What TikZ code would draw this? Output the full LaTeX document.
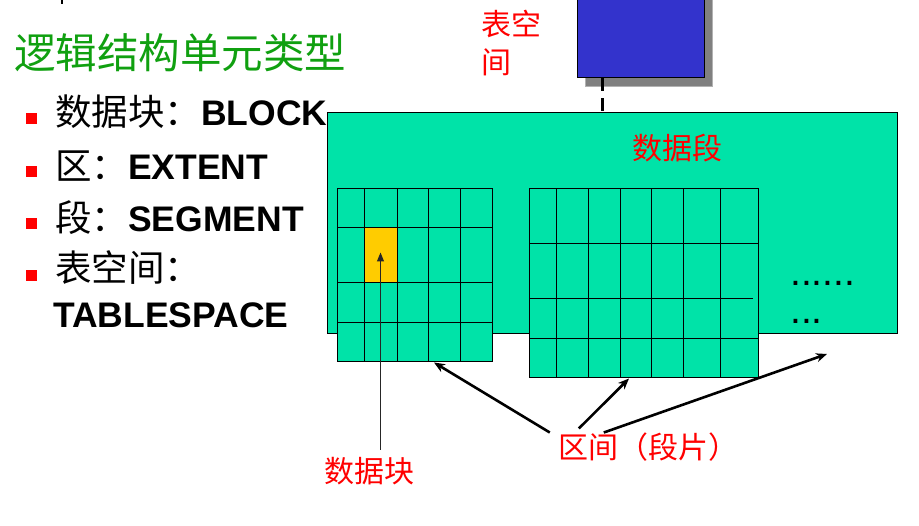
\documentclass[tikz,border=0pt]{standalone}
\usepackage{fontspec}
\setmainfont{Liberation Sans}
\newfontfamily\cjk{Noto Sans CJK SC}
\usetikzlibrary{arrows.meta, positioning, calc}
\definecolor{segteal}{RGB}{0, 227, 168}
\definecolor{blockyellow}{RGB}{255, 204, 0}
\definecolor{spaceblue}{RGB}{51, 51, 204}
\definecolor{titlegreen}{RGB}{16, 160, 16}
\definecolor{markred}{RGB}{255, 0, 0}
\definecolor{shadowgray}{RGB}{128, 128, 128}

\begin{document}
\begin{tikzpicture}[x=1pt, y=-1pt,
  ext/.style={draw, line width=1pt, fill=segteal, inner sep=0pt},
  gridline/.style={line width=1pt},
  pointer/.style={-{Stealth[length=11pt, width=9pt]}, line width=2.6pt},
  item/.style={anchor=base west, inner sep=0pt, font=\fontsize{35.5}{40}\selectfont},
  redlabel/.style={text=markred, inner sep=0pt, font=\cjk\fontsize{30}{38}\selectfont}]

  \useasboundingbox (0,0) rectangle (919,526);
  \draw[line width=2pt] (62,0) -- (62,4);

  % title and list
  \node[anchor=base west, inner sep=0pt, text=titlegreen, font=\cjk\fontsize{41.5}{48}\selectfont] (title) at (14,69) {逻辑结构单元类型};
  \foreach \y in {119,172,224,276}
    \fill[markred] (25.5,\y-5.5) rectangle ++(11,11);
  \node[item] (r1) at (55,126) {{\cjk\fontsize{36.5}{40}\selectfont 数据块：}\textbf{BLOCK}};
  \node[item] (r2) at (55,180) {{\cjk\fontsize{36.5}{40}\selectfont 区：}\textbf{EXTENT}};
  \node[item] (r3) at (55,232) {{\cjk\fontsize{36.5}{40}\selectfont 段：}\textbf{SEGMENT}};
  \node[item] (r4) at (55,282) {{\cjk\fontsize{36.5}{40}\selectfont 表空间：}};
  \node[item] (r5) at (53,328) {\textbf{TABLESPACE}};

  % tablespace
  \fill[shadowgray, draw=gray!60] (585,-10) rectangle (712,86);
  \node[draw, line width=1pt, fill=spaceblue, minimum width=127pt, minimum height=93pt, inner sep=0pt] (tbs) at (640.5,31.5) {};
  \node[redlabel, anchor=north west, align=left] (tbsname) at (481,10) {表空\\间};

  % data segment
  \node[ext, minimum width=570pt, minimum height=221pt] (seg) at (612,223.5) {};
  \node[redlabel] (segname) at (677,148) {数据段};
  \coordinate (d1) at ([xshift=26pt]tbs.south west);
  \draw[line width=3pt, dash pattern=on 13pt off 7pt] (d1) -- (d1 |- seg.north);

  % extent 1
  \node[ext, minimum width=155pt, minimum height=173pt] (ext1) at (414.5,275.5) {};
  \node[draw, line width=1pt, fill=blockyellow, minimum width=33pt, minimum height=55pt, inner sep=0pt] (blk) at (380.5,255.5) {};
  \foreach \x in {364,397,428,460}
    \draw[gridline] (\x,189) -- (\x,362);
  \foreach \y in {228,283,323}
    \draw[gridline] (337,\y) -- (492,\y);

  % extent 2
  \node[ext, minimum width=229pt, minimum height=189pt] (ext2) at (643.5,283.5) {};
  \foreach \x in {556,588,620,651,683,720}
    \draw[gridline] (\x,189) -- (\x,378);
  \foreach \y in {244,339}
    \draw[gridline] (529,\y) -- (758,\y);
  \draw[gridline] (529,299) -- (753,299);

  \node[anchor=north west, inner sep=0pt, align=left, font=\fontsize{39}{38}\selectfont] (more) at (790,281) {......\\...};

  % labels below
  \node[redlabel] (blkname) at (369,471) {数据块};
  \draw[-{Triangle[length=9pt, width=7pt]}, line width=1pt, draw=black!85] ($(blk.center |- blkname.north)+(0,-7)$) -- ([yshift=3pt]blk.center);

  \node[redlabel] (extname) at (648,447) {区间（段片）};
  \coordinate (open) at (827,354);
  \draw[pointer] ([xshift=-8pt]extname.north west) -- ([xshift=19.5pt]ext1.south);
  \draw[pointer] ([shift={(21pt,4pt)}]extname.north west) -- ([xshift=-14.5pt]ext2.south);
  \draw[pointer] ([xshift=46pt]extname.north west) -- (open);
\end{tikzpicture}
\end{document}
